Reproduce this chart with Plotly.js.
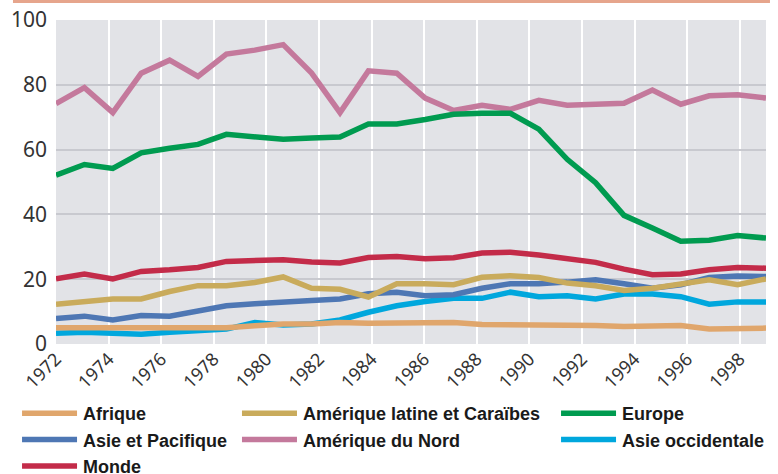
<!DOCTYPE html>
<html>
<head>
<meta charset="utf-8">
<script src="https://cdn.plot.ly/plotly-3.0.1.min.js"></script>
<style>
html,body{margin:0;padding:0;background:#fff;}
#chart{width:778px;height:474px;}
/* longer legend line samples, as in the original */
#chart .legendlines path{d:path("M5,0h55");}
</style>
</head>
<body>
<div id="chart"></div>
<script>
// Data points (26 observations drawn across the 1972–1999 axis span)
const years = [1972,1973,1974,1975,1976,1977,1978,1979,1980,1981,1982,1983,1984,1985,1986,1987,1988,1989,1990,1991,1992,1993,1994,1995,1996,1997];
const tickLabels = ['1972','1974','1976','1978','1980','1982','1984','1986','1988','1990','1992','1994','1996','1998'];

const afrique = [5.0,5.0,5.0,5.0,5.0,5.0,5.0,5.6,6.2,6.2,6.6,6.4,6.4,6.4,6.6,6.0,6.0,6.0,5.7,5.7,5.4,5.4,5.7,4.6,4.6,4.9];
const ameriqueLatine = [12.3,13.1,13.9,13.9,16.2,18.0,18.0,19.0,20.7,17.2,16.9,14.5,18.6,18.6,18.3,20.6,21.1,20.5,18.8,18.0,16.5,17.2,18.3,19.8,18.3,20.1];
const europe = [52.1,55.4,54.2,59.0,60.4,61.6,64.7,64.0,63.2,63.6,63.9,67.9,67.9,69.3,70.9,71.2,71.2,66.3,57.0,49.8,39.7,35.8,31.7,32.0,33.5,32.7];
const asiePacifique = [7.9,8.6,7.4,8.8,8.6,10.2,11.8,12.4,13.1,13.4,13.9,15.5,16.0,14.9,15.2,17.2,18.6,18.6,19.1,19.8,18.6,17.2,18.3,20.5,21.0,20.8];
const ameriqueNord = [74.2,79.1,71.4,83.6,87.6,82.6,89.5,90.7,92.4,83.6,71.4,84.3,83.6,75.9,72.1,73.7,72.4,75.2,73.7,74.0,74.3,78.4,74.0,76.6,76.9,75.9];
const asieOccidentale = [3.3,3.6,3.3,3.0,3.6,4.0,4.6,6.6,5.9,6.2,7.4,9.8,11.8,13.1,14.1,14.1,16.0,14.6,14.9,13.9,15.4,15.4,14.6,12.3,13.0,13.0];
const monde = [20.1,21.6,20.1,22.4,22.9,23.6,25.5,25.8,26.0,25.3,25.0,26.7,27.0,26.3,26.6,28.1,28.3,27.5,26.2,25.2,23.1,21.4,21.6,22.9,23.6,23.4];

const series = [
  {name:'Asie occidentale', y:asieOccidentale, color:'#00a7dd', legend:'legend3', rank:2},
  {name:'Asie et Pacifique', y:asiePacifique, color:'#4e77b4', legend:'legend', rank:2},
  {name:'Afrique', y:afrique, color:'#e0a66c', legend:'legend', rank:1},
  {name:'Amérique latine et Caraïbes', y:ameriqueLatine, color:'#c9ab5c', legend:'legend2', rank:1},
  {name:'Amérique du Nord', y:ameriqueNord, color:'#c4799c', legend:'legend2', rank:2},
  {name:'Europe', y:europe, color:'#009b50', legend:'legend3', rank:1},
  {name:'Monde', y:monde, color:'#c32b49', legend:'legend', rank:3}
];

const traces = series.map(s => ({
  type:'scatter', mode:'lines', x:years, y:s.y, name:s.name,
  line:{color:s.color, width:5.5}, legend:s.legend, legendrank:s.rank,
  legendgroup:s.name
}));

const span = years[years.length-1] - years[0];
const tickVals = tickLabels.map(t => years[0] + (Number(t) - 1972) * span / 27);

const legFont = {family:'Liberation Sans, Arial', size:18, color:'#1a1a1a', weight:'bold'};
const legBase = {orientation:'v', xref:'container', yref:'container', yanchor:'top', xanchor:'left',
  bgcolor:'rgba(0,0,0,0)', font:legFont, tracegroupgap:3, itemwidth:56, traceorder:'normal'};

const layout = {
  width:778, height:474,
  margin:{l:56, r:12, t:20, b:130, autoexpand:false},
  paper_bgcolor:'#ffffff', plot_bgcolor:'#e2e3e7',
  showlegend:true,
  xaxis:{range:[years[0], years[years.length-1]], tickvals:tickVals, ticktext:tickLabels, tickangle:-45,
    showgrid:true, gridcolor:'#ffffff', gridwidth:2, zeroline:false, showline:false, ticks:'', automargin:false,
    tickfont:{family:'Noto Sans, Liberation Sans', size:18, color:'#333333'}, fixedrange:true},
  yaxis:{range:[0,100], tickvals:[0,20,40,60,80,100], showgrid:true, gridcolor:'#c8c9cf', gridwidth:2,
    zeroline:false, showline:false, ticks:'', ticklabelstandoff:8, automargin:false,
    tickfont:{family:'Noto Sans, Liberation Sans', size:21, color:'#333333'}},
  legend:Object.assign({}, legBase, {x:0.0219, y:0.1667}),
  legend2:Object.assign({}, legBase, {x:0.3046, y:0.1667}),
  legend3:Object.assign({}, legBase, {x:0.7147, y:0.1667}),
  shapes:[{type:'line', xref:'paper', yref:'paper', x0:-0.0606, x1:1.0056, y0:1.057, y1:1.057,
    line:{color:'#e6a58c', width:3}}]
};

Plotly.newPlot('chart', traces, layout, {displayModeBar:false, staticPlot:true});
</script>
</body>
</html>
